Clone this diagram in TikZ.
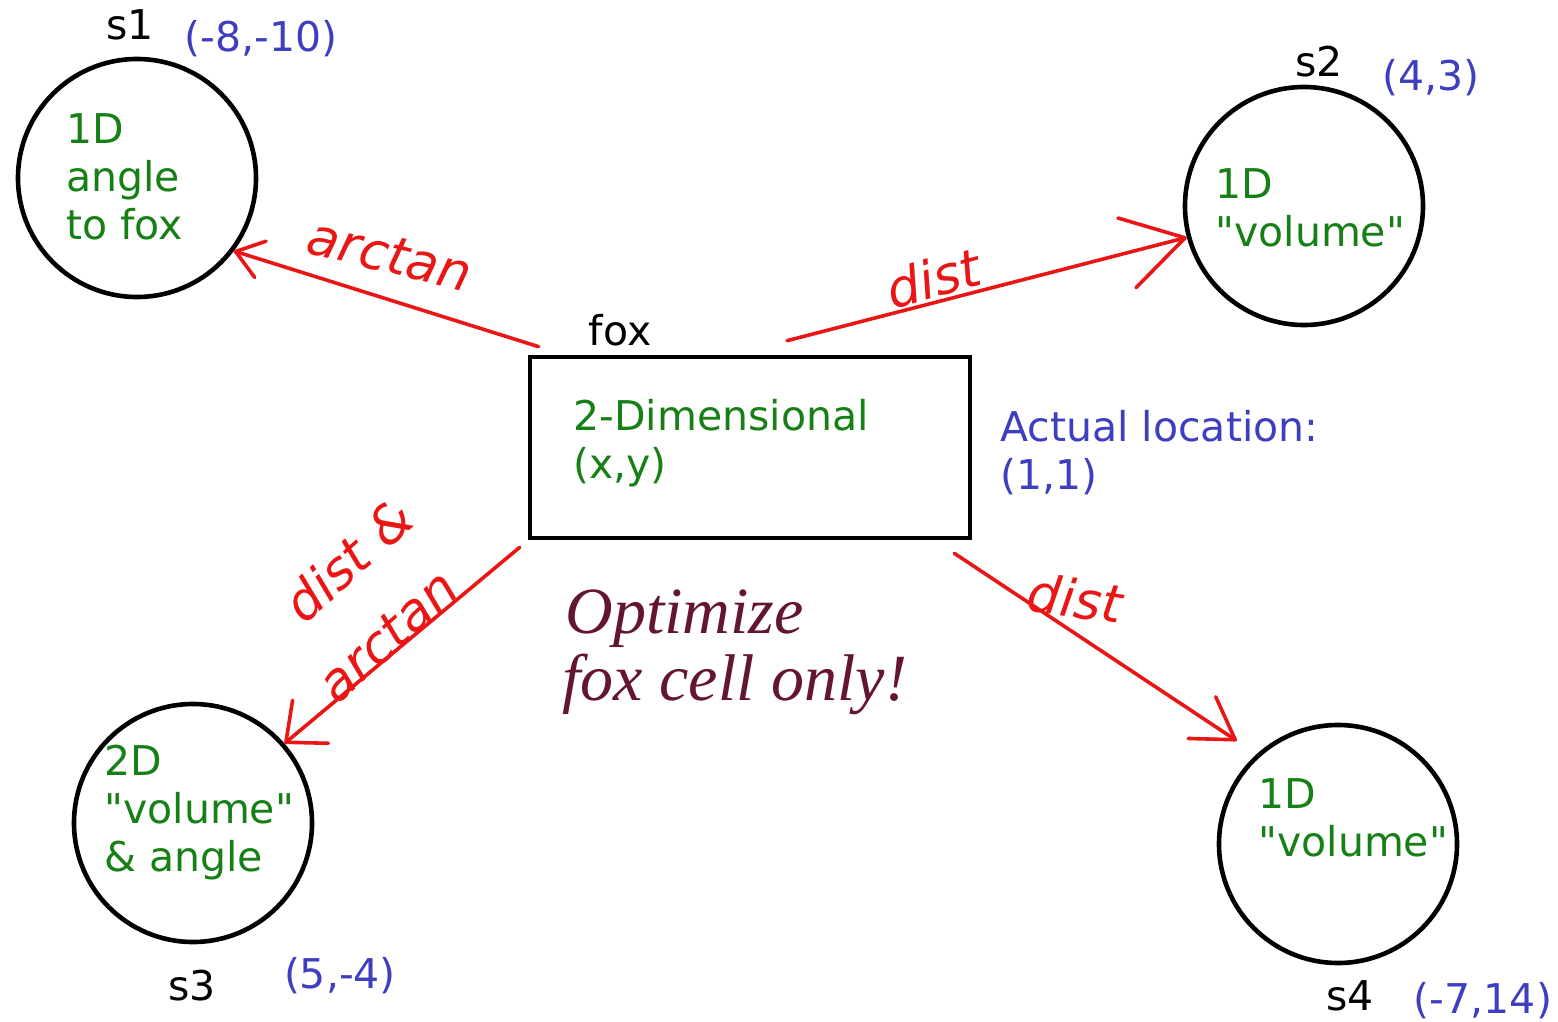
\documentclass[tikz,border=0pt]{standalone}
\usepackage{fontspec}
\setmainfont{DejaVu Sans}
\newfontfamily\optfont{Liberation Serif}
\newfontfamily\handfont{DejaVu Sans}
\usetikzlibrary{arrows.meta}
\definecolor{lgreen}{RGB}{22,128,22}
\definecolor{lblue}{RGB}{62,62,192}
\definecolor{lred}{RGB}{234,22,22}
\definecolor{lmaroon}{RGB}{100,22,48}
\newcommand{\qd}{\textquotedbl}
\begin{document}
\begin{tikzpicture}[x=0.5pt,y=-0.5pt,
  cell/.style={circle, draw=black, line width=2.3pt, minimum size=119pt, inner sep=0pt},
  foxbox/.style={rectangle, draw=black, line width=2.3pt, minimum width=220pt, minimum height=90.5pt, inner sep=0pt},
  gtxt/.style={anchor=base west, align=left, inner sep=0pt, text=lgreen, font=\fontsize{20.5}{24}\selectfont},
  btxt/.style={anchor=base west, align=left, inner sep=0pt, text=lblue, font=\fontsize{20.5}{24}\selectfont},
  bco/.style={anchor=base, inner sep=0pt, text=lblue, font=\fontsize{20.5}{24}\selectfont},
  ktxt/.style={anchor=base, inner sep=0pt, text=black, font=\fontsize{20.5}{24}\selectfont},
  opt/.style={anchor=base west, inner sep=0pt, text=lmaroon, font=\optfont\itshape\fontsize{33}{35}\selectfont},
  hand/.style={text=lred, inner sep=0pt, font=\handfont\itshape\fontsize{26}{30}\selectfont},
  conn/.style={draw=lred, line width=1.8pt, line cap=round, line join=round}
]
\useasboundingbox (0,0) rectangle (1558,1022);

% cells
\node[cell] (s1) at (137,178) {};
\node[cell] (s2) at (1304,206) {};
\node[cell] (s3) at (193,823) {};
\node[cell] (s4) at (1338,844) {};
\node[foxbox] (fox) at (750,447.5) {};

% cell contents (base anchor = baseline of last line)
\node[gtxt] (t1) at (66,239) {1D\\angle\\to fox};
\node[gtxt] (t2) at (1215,246) {1D\\\qd volume\qd};
\node[gtxt] (t3) at (104,871) {2D\\\qd volume\qd\\\& angle};
\node[gtxt] (t4) at (1258,856) {1D\\\qd volume\qd};
\node[gtxt] (tf) at (573,478) {2-Dimensional\\(x,y)};
\node[btxt] (loc) at (1000,489) {Actual location:\\(1,1)};

% names and coordinates
\node[ktxt] (n1) at (130,40) {s1};
\node[bco] (c1) at (261,52) {(-8,-10)};
\node[ktxt] (n2) at (1319,77) {s2};
\node[bco] (c2) at (1431,91) {(4,3)};
\node[ktxt] (nf) at (620,345) {fox};
\node[ktxt] (n3) at (192,1000) {s3};
\node[bco] (c3) at (340,988) {(5,-4)};
\node[ktxt] (n4) at (1350,1010) {s4};
\node[bco] (c4) at (1483,1013) {(-7,14)};

% remark
\node[opt] (opt1) at (565,633) {Optimize};
\node[opt] (opt2) at (562,700) {fox cell only!};

% connectors
\coordinate (a1s) at ([shift={(11,-8)}]fox.north west);
\coordinate (a2s) at ([shift={(37,-14)}]fox.north);
\coordinate (a3s) at ([shift={(-8,7)}]fox.south west);
\coordinate (a4s) at ([shift={(-18,13)}]fox.south east);
\coordinate (a4e) at ([shift={(-17,-16)}]s4.134);

\draw[conn, -{Straight Barb[length=13pt,width=19pt,round]}] (a1s) -- (s1.-37.5);
\draw[conn, -{Straight Barb[length=30pt,width=36pt,round]}] (a2s) -- (s2.195);
\draw[conn, -{Straight Barb[length=16pt,width=28pt,round]}] (a3s) -- (s3.41);
\draw[conn, -{Straight Barb[length=20pt,width=25pt,round]}] (a4s) -- (a4e);

% handwritten labels
\node[hand, rotate=-14] (h1) at (390,255) {arctan};
\node[hand, rotate=15] (h2) at (933,278) {dist};
\node[hand, rotate=42] (h3a) at (348,560) {dist \&};
\node[hand, rotate=42] (h3b) at (388,636) {arctan};
\node[hand, rotate=-8] (h4) at (1075,598) {dist};
\end{tikzpicture}
\end{document}
